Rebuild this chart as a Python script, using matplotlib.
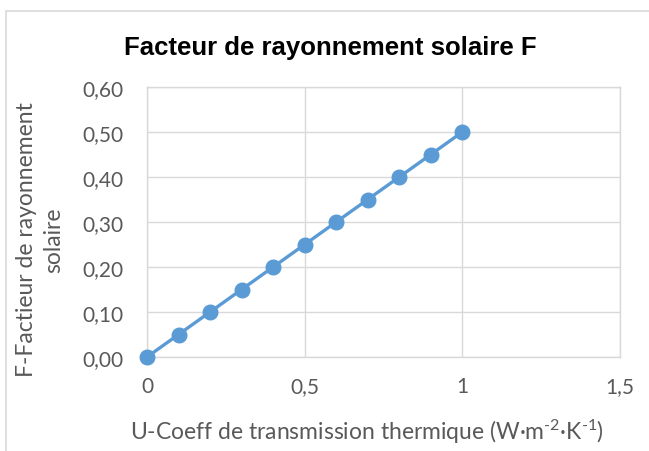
import matplotlib
matplotlib.use("Agg")
import matplotlib.pyplot as plt
from matplotlib.patches import Rectangle
from matplotlib.ticker import FuncFormatter

u_values = [0, 0.1, 0.2, 0.3, 0.4, 0.5, 0.6, 0.7, 0.8, 0.9, 1.0]
f_values = [0.0, 0.05, 0.10, 0.15, 0.20, 0.25, 0.30, 0.35, 0.40, 0.45, 0.50]
x_ticks = [0, 0.5, 1, 1.5]
y_ticks = [0, 0.1, 0.2, 0.3, 0.4, 0.5, 0.6]

title = "Facteur de rayonnement solaire F"
xlabel = r"U-Coeff de transmission thermique (W·m$^{\text{-2}}$·K$^{\text{-1}}$)"
ylabel = "F-Factieur de rayonnement\nsolaire"

plt.rcParams['mathtext.fontset'] = 'custom'
plt.rcParams['mathtext.rm'] = 'Lato'
plt.rcParams['mathtext.it'] = 'Lato'
plt.rcParams['mathtext.default'] = 'regular'

fig = plt.figure(figsize=(6.49, 4.52), dpi=100)
fig.patches.append(Rectangle((6/649, -0.05), 1.2, 1 - 12/452 + 0.05,
                             transform=fig.transFigure, fill=False,
                             edgecolor="#D9D9D9", linewidth=1.2, zorder=0))

ax = fig.add_axes([147/649, (452-358)/452, (620-147)/649, (358-88)/452])
ax.plot(u_values, f_values, color="#5B9BD5", linewidth=2.4, marker="o",
        markersize=10.5, clip_on=False, zorder=3)
ax.set_xlim(0, 1.5)
ax.set_ylim(0, 0.6)
ax.set_xticks(x_ticks)
ax.set_yticks(y_ticks)
ax.xaxis.set_major_formatter(FuncFormatter(lambda v, p: f"{v:g}".replace(".", ",")))
ax.yaxis.set_major_formatter(FuncFormatter(lambda v, p: f"{v:.2f}".replace(".", ",")))
ax.grid(True, color="#D9D9D9", linewidth=1.0)
ax.set_axisbelow(True)
for s in ax.spines.values():
    s.set_color("#D9D9D9")
    s.set_linewidth(1.0)
ax.tick_params(length=0, labelcolor="#595959", labelsize=15)
ax.tick_params(axis="x", pad=14)
ax.tick_params(axis="y", pad=17)
for lab in ax.get_xticklabels() + ax.get_yticklabels():
    lab.set_fontfamily("Lato")

fig.text(330/649, 1 - 48/452, title, ha="center", va="center",
         fontfamily="Liberation Sans", fontweight="bold", fontsize=18.5, color="black")
fig.text(367/649, 1 - 432/452, xlabel, ha="center", va="center",
         fontfamily="Lato", fontsize=16.5, color="#595959")
fig.text(40/649, 1 - 240/452, ylabel, ha="center", va="center", rotation=90,
         fontfamily="Lato", fontsize=16.5, color="#595959", multialignment="center",
         linespacing=1.4)

fig.savefig("out.png", dpi=100)
